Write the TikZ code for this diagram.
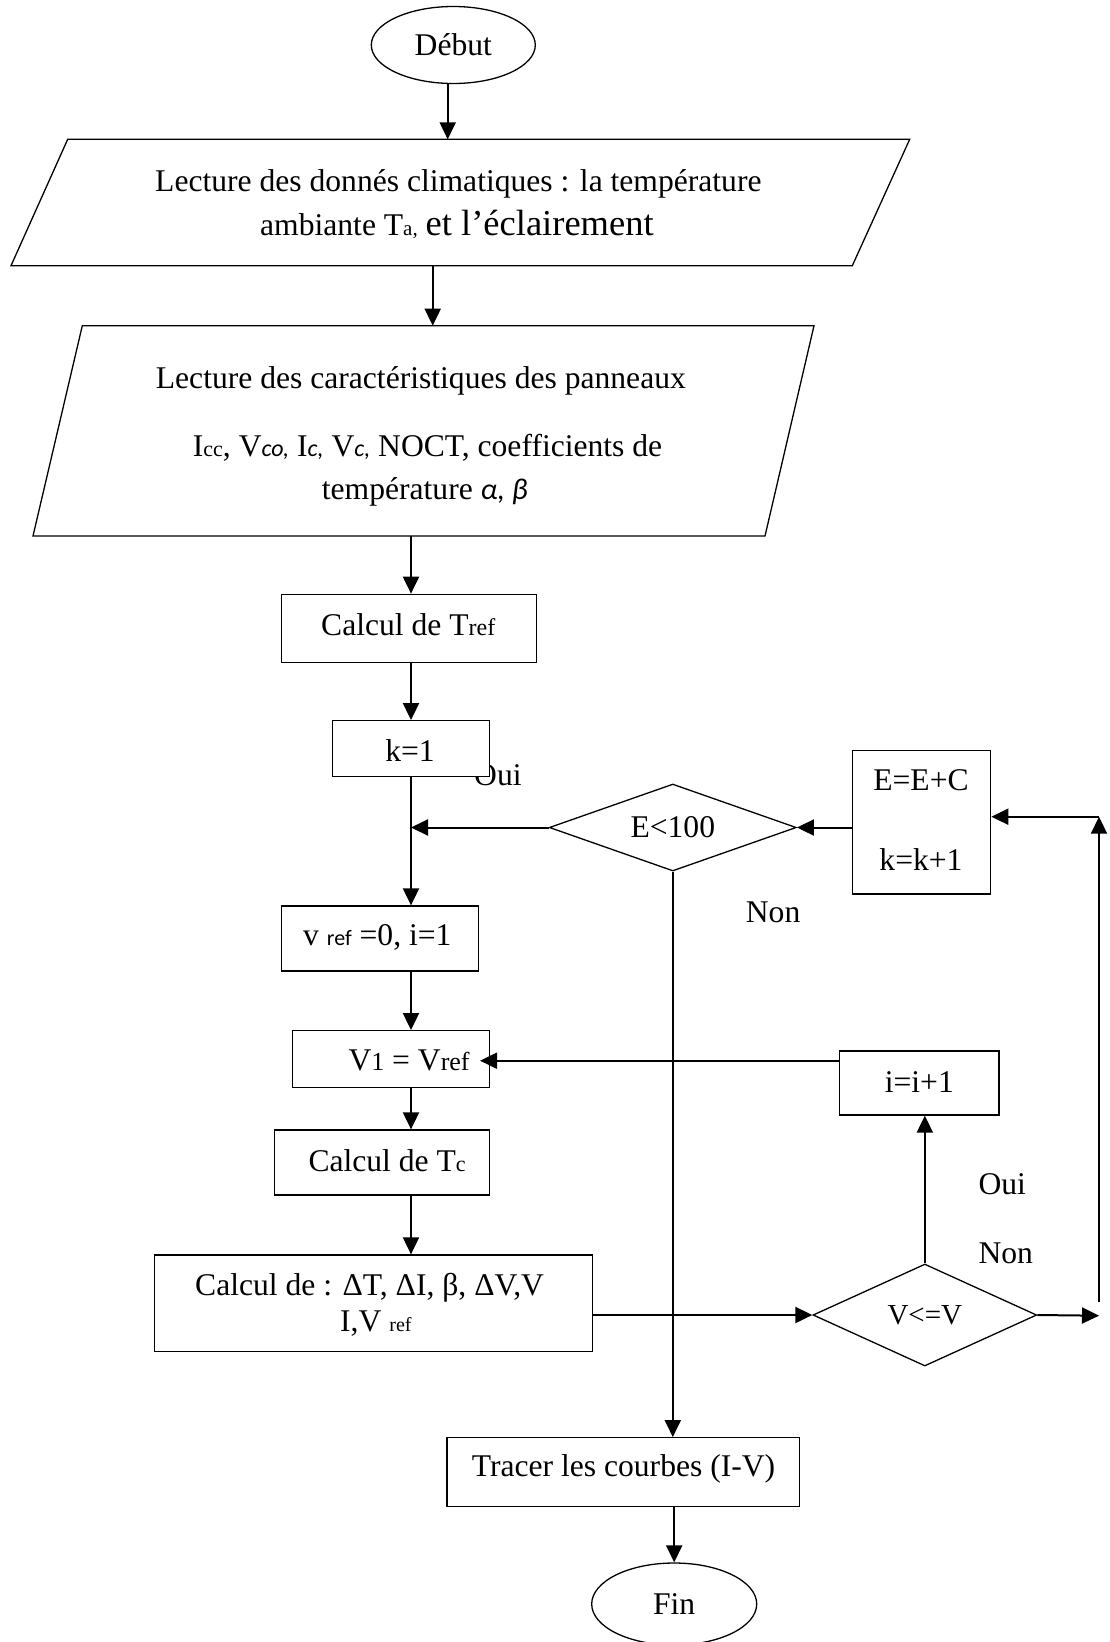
\documentclass[tikz,border=0pt]{standalone}
\usepackage{fontspec}
\setmainfont{Liberation Serif}
\newfontfamily\sansf{Carlito}
\usetikzlibrary{arrows.meta,shapes.geometric}
\newcommand\fs[1]{\fontsize{#1}{#1}\selectfont}
\begin{document}
\begin{tikzpicture}[x=1pt,y=-1pt,
  shp/.style={draw,line width=1.3pt},
  boxn/.style={shp,rectangle,fill=white,inner sep=0pt},
  arr/.style={line width=2pt,-{Triangle[length=17pt,width=16pt]}},
  txt/.style={anchor=base west,inner sep=0pt,font=\fs{31.6}},
  txtc/.style={anchor=base,inner sep=0pt,font=\fs{31.6}},
]
\useasboundingbox[fill=white] (0,0) rectangle (1109,1642);

% start
\node[shp,ellipse,minimum width=164pt,minimum height=77pt,inner sep=0pt,font=\fs{31.6}] (debut) at (453.3,45) {Début};

% parallelogram 1
\coordinate (p1a) at (67.7,139.3);
\coordinate (p1b) at (909.7,139.3);
\coordinate (p1c) at (852.3,265.7);
\coordinate (p1d) at (11,265.7);
\draw[shp] (p1a) -- (p1b) -- (p1c) -- (p1d) -- cycle;
\coordinate (p1in) at (447.7,139.3);
\coordinate (p1out) at (432.7,265.7);
\node[txt] (t1a) at (155,191.7) {Lecture des donnés climatiques : la température};
\node[txt] (t1b) at (260,235) {ambiante T{\fs{21}a,} {\fs{36.5}et l’éclairement}};

% parallelogram 2
\coordinate (p2a) at (82.3,325.7);
\coordinate (p2b) at (814,325.7);
\coordinate (p2c) at (765,536);
\coordinate (p2d) at (33,536);
\draw[shp] (p2a) -- (p2b) -- (p2c) -- (p2d) -- cycle;
\coordinate (p2in) at (432.7,325.7);
\coordinate (p2out) at (411,536);
\node[txt] (t2a) at (155.7,388.3) {Lecture des caractéristiques des panneaux};
\node[txt] (t2b) at (192.7,456.7) {I{\fs{22}cc}, V{\sansf\itshape\fs{24}co,} I{\sansf\itshape\fs{24}c,} V{\sansf\itshape\fs{24}c,} NOCT, coefficients de};
\node[txt] (t2c) at (321.7,499.5) {température {\sansf\itshape\fs{30}α, β}};

\coordinate (ax) at (411,0);

% labels drawn below boxes
\node[txt] (oui1) at (474,785.7) {Oui};
\node[txt] (non1) at (745.7,922.3) {Non};
\node[txt] (oui2) at (978.3,1194) {Oui};
\node[txt] (non2) at (978.3,1263.3) {Non};

% boxes
\node[boxn,minimum width=255pt,minimum height=68.4pt] (tref) at (409.2,628.5) {};
\node[txt] (ttref) at (321,635) {Calcul de T{\fs{24}ref}};
\node[boxn,minimum width=157pt,minimum height=55.6pt] (k1) at (410.8,748.5) {};
\node[txtc] (tk1) at (410,761.7) {k=1};
\node[boxn,minimum width=196.6pt,minimum height=65pt] (vref) at (380,938.5) {};
\node[txt] (tvref) at (303,945.7) {v {\sansf\fs{22}ref} =0, i=1};
\node[boxn,minimum width=197pt,minimum height=57pt] (V1) at (390.8,1059.2) {};
\node[txt] (tV1) at (348.3,1070.7) {V{\fs{26}1} = V{\fs{26}ref}};
\node[boxn,minimum width=215pt,minimum height=65pt] (Tc) at (381.8,1162.5) {};
\node[txt] (tTc) at (308.3,1171.7) {Calcul de T{\fs{22}c}};
\node[boxn,minimum width=438.2pt,minimum height=96.5pt] (calc) at (373.4,1303.25) {};
\node[txt] (tcalc1) at (195,1295) {Calcul de : ΔT, ΔI, β, ΔV,V};
\node[txt] (tcalc2) at (340,1331.7) {I,V {\fs{20}ref}};
\node[boxn,minimum width=138.4pt,minimum height=143.3pt] (EEC) at (921.5,822.35) {};
\node[txtc] (tEEC1) at (921,790) {E=E+C};
\node[txtc] (tEEC2) at (921,870) {k=k+1};
\node[boxn,minimum width=159.3pt,minimum height=64pt] (ii) at (919.35,1083) {};
\node[txtc] (tii) at (919.3,1092.3) {i=i+1};
\node[boxn,minimum width=352.3pt,minimum height=69pt] (tracer) at (623.15,1472.2) {};
\node[txt] (ttracer) at (471.7,1476.7) {Tracer les courbes (I-V)};
\node[shp,ellipse,minimum width=165pt,minimum height=82pt,inner sep=0pt,font=\fs{31.6}] (fin) at (674.2,1604) {Fin};

% decisions
\node[shp,diamond,shape aspect=3,minimum width=247pt,minimum height=87pt,inner sep=0pt,font=\fs{31.6}] (E100) at (672.8,827.5) {E<100};
\node[shp,diamond,shape aspect=2.4,minimum width=223.7pt,minimum height=102pt,inner sep=0pt,font=\fs{29}] (VV) at (924.85,1315) {V<=V};

% connectors
\draw[arr] (debut.south -| p1in) -- (p1in);
\draw[arr] (p1out) -- (p2in);
\draw[arr] (p2out) -- (p2out |- tref.north);
\draw[arr] (tref.south -| ax) -- (k1.north -| ax);
\draw[arr] (k1.south -| ax) -- (vref.north -| ax);
\draw[arr] (E100.west) -- (E100.west -| ax);
\draw[arr] (EEC.west |- E100.east) -- (E100.east);
\draw[arr] (E100.south) -- (E100.south |- tracer.north);
\draw[arr] (vref.south -| ax) -- (V1.north -| ax);
\draw[arr] (V1.south -| ax) -- (Tc.north -| ax);
\draw[arr] (Tc.south -| ax) -- (calc.north -| ax);
\draw[arr] (calc.east |- VV.west) -- (VV.west);
\draw[arr] (VV.north) -- (VV.north |- ii.south);
\coordinate (iiout) at (839.7,1060.7);
\coordinate (v1in) at (480,1060.7);
\draw[arr] (iiout) -- (v1in);
\coordinate (vvend) at (1099,1315.7);
\draw[arr] (VV.east) -- (vvend);
\coordinate (rbot) at (1099,1301.7);
\coordinate (rtop) at (1099,816.7);
\draw[arr] (rbot) -- (rtop);
\draw[arr] (rtop) -- (rtop -| EEC.east);
\draw[arr] (fin.north |- tracer.south) -- (fin.north);
\end{tikzpicture}
\end{document}
